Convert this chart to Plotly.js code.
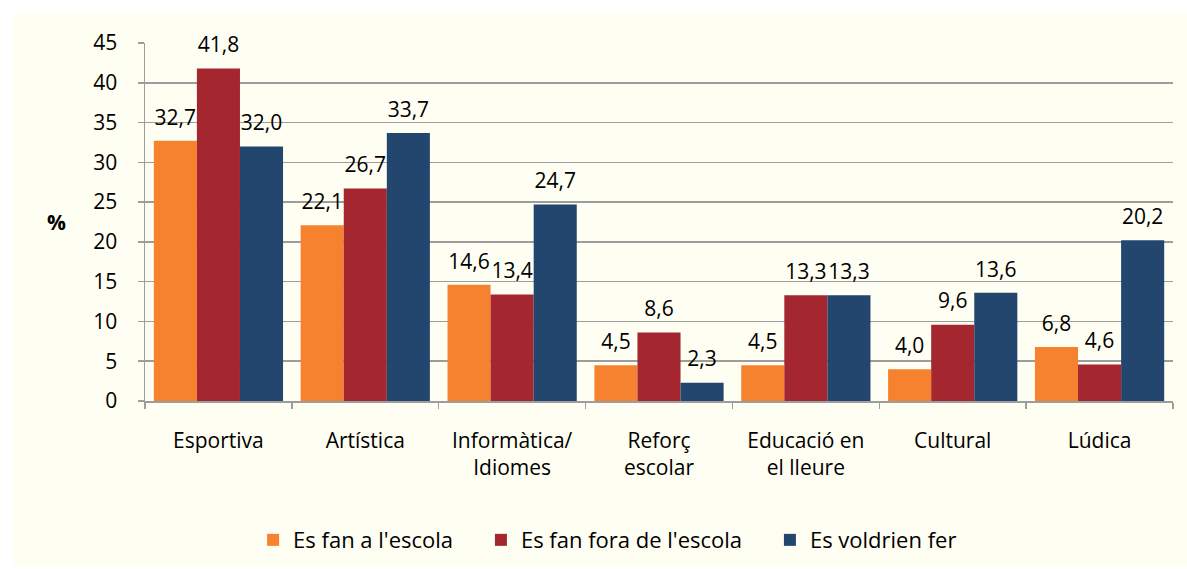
<!DOCTYPE html>
<html>
<head>
<meta charset="utf-8">
<script src="https://cdn.plot.ly/plotly-3.0.1.min.js"></script>
<style>
  html, body { margin: 0; padding: 0; background: #ffffff; }
  #chart { position: absolute; left: 13px; top: 14px; width: 1174px; height: 552px; }
</style>
</head>
<body>
<div id="chart"></div>
<script>
const categories = ["Esportiva", "Artística", "Informàtica/<br>Idiomes", "Reforç<br>escolar", "Educació en<br>el lleure", "Cultural", "Lúdica"];
const seriesNames = ["Es fan a l'escola", "Es fan fora de l'escola", "Es voldrien fer"];
const esFanEscola = [32.7, 22.1, 14.6, 4.5, 4.5, 4.0, 6.8];
const esFanFora = [41.8, 26.7, 13.4, 8.6, 13.3, 9.6, 4.6];
const esVoldrienFer = [32.0, 33.7, 24.7, 2.3, 13.3, 13.6, 20.2];
const colors = ["#F6822F", "#A4262F", "#23466F"];

const FONT = "'Open Sans', 'Noto Sans', sans-serif";
const values = [esFanEscola, esFanFora, esVoldrienFer];
const PAD = "\u00a0\u00a0\u00a0\u00a0";

const barTraces = values.map((v, i) => ({
  type: "bar",
  name: i < values.length - 1 ? seriesNames[i] + PAD : seriesNames[i],
  x: categories,
  y: v,
  marker: { color: colors[i], line: { width: 0 } },
  hoverinfo: "skip"
}));

const labelTraces = values.map((v, i) => ({
  type: "scatter",
  mode: "markers+text",
  name: seriesNames[i] + " (etiquetes)",
  showlegend: false,
  x: categories,
  y: v,
  marker: { size: 16, opacity: 0, color: colors[i] },
  texttemplate: "%{y:.1f}",
  textposition: "top center",
  cliponaxis: false,
  textfont: { family: FONT, size: 21, color: "#000000" },
  hoverinfo: "skip"
}));

const layout = {
  width: 1174,
  height: 552,
  paper_bgcolor: "#FFFEF3",
  plot_bgcolor: "#FFFEF3",
  separators: ",.",
  font: { family: FONT, size: 21, color: "#000000" },
  margin: { l: 132, r: 14, t: 29, b: 165 },
  barmode: "group",
  bargap: 0.12,
  bargroupgap: 0,
  scattermode: "group",
  scattergap: 0.12,
  showlegend: true,
  legend: {
    orientation: "h",
    x: 0.45, xanchor: "center",
    yref: "container",
    y: 0.047, yanchor: "middle",
    font: { family: FONT, size: 22, color: "#000000" },
    bgcolor: "rgba(0,0,0,0)",
    itemwidth: 30,
    tracegroupgap: 0
  },
  xaxis: {
    type: "category",
    automargin: false,
    showline: true,
    linecolor: "#9D9D9D",
    linewidth: 1.5,
    ticks: "outside",
    tickson: "boundaries",
    ticklen: 6,
    tickcolor: "#9D9D9D",
    tickwidth: 1.5,
    ticklabelstandoff: 20,
    tickfont: { family: FONT, size: 21, color: "#000000" },
    showgrid: false
  },
  yaxis: {
    automargin: false,
    range: [0, 45],
    dtick: 5,
    tick0: 0,
    showline: true,
    linecolor: "#9D9D9D",
    linewidth: 1.5,
    ticks: "outside",
    ticklen: 6,
    tickcolor: "#9D9D9D",
    tickwidth: 1.5,
    ticklabelstandoff: 16,
    showgrid: true,
    gridcolor: "#9D9D9D",
    gridwidth: 1.5,
    zeroline: false,
    tickfont: { family: FONT, size: 21, color: "#000000" }
  },
  annotations: [{
    text: "<b>%</b>",
    xref: "paper", yref: "paper",
    x: -0.086, y: 0.5,
    xanchor: "center", yanchor: "middle",
    showarrow: false,
    font: { family: FONT, size: 21, color: "#000000" }
  }]
};

Plotly.newPlot("chart", barTraces.concat(labelTraces), layout, { displayModeBar: false, staticPlot: true });
</script>
</body>
</html>
